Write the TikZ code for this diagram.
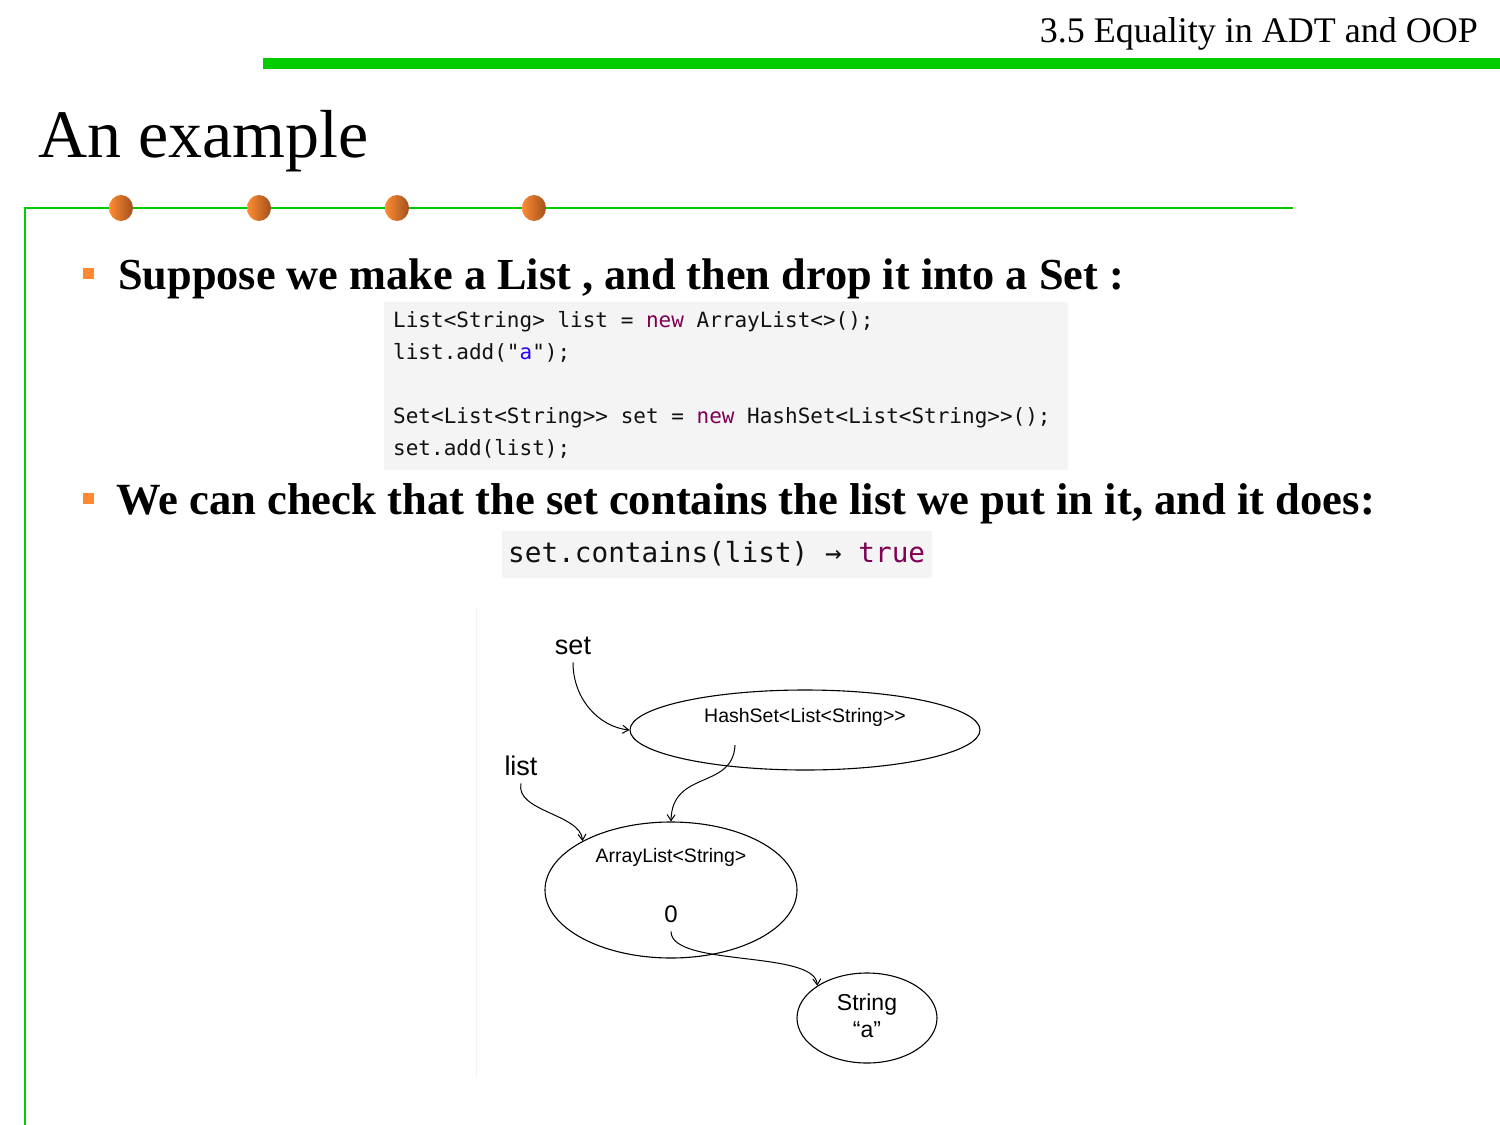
\documentclass[tikz,border=0pt]{standalone}
\usepackage{fontspec}
\setmainfont{Liberation Serif}
\newfontfamily\codefont{DejaVu Sans Mono}
\newfontfamily\sansdiag{Liberation Sans}
\usetikzlibrary{shapes.geometric,arrows.meta}
\definecolor{barGreen}{HTML}{00CC00}
\definecolor{dotLight}{HTML}{FF8C34}
\definecolor{dotDark}{HTML}{A0501C}
\definecolor{bulletOrange}{HTML}{FF8833}
\definecolor{codeBg}{HTML}{F4F4F4}
\definecolor{kwPurple}{HTML}{7F0055}
\definecolor{strBlue}{HTML}{2A00FF}
\definecolor{codeInk}{HTML}{111111}
\definecolor{frameGray}{HTML}{F2F2F2}

\begin{document}
\begin{tikzpicture}[x=1pt,y=-1pt,
  headertext/.style={anchor=base east, inner sep=0, font=\fontsize{36}{40}\selectfont},
  slidetitle/.style={anchor=base west, inner sep=0, font=\fontsize{68}{75}\selectfont},
  bullettext/.style={anchor=base west, inner sep=0, font=\fontsize{#1}{50}\selectfont\bfseries},
  bulletmark/.style={fill=bulletOrange, minimum size=11pt, inner sep=0},
  codeline/.style={anchor=base west, inner sep=0, text=codeInk, font=\codefont\fontsize{21}{24}\selectfont},
  bigcode/.style={anchor=base west, inner sep=0, text=codeInk, font=\codefont\fontsize{27.7}{30}\selectfont},
  ballmark/.style={ellipse, minimum width=24pt, minimum height=26pt, inner sep=0, left color=dotLight, right color=dotDark},
  objshape/.style={ellipse, draw, line width=1.1pt, inner sep=0},
  varlabel/.style={anchor=base, inner xsep=0, inner ysep=8pt, font=\sansdiag\fontsize{27}{30}\selectfont},
  typelabel/.style={anchor=base, inner sep=0, font=\sansdiag\fontsize{19.5}{22}\selectfont},
  valuelabel/.style={anchor=base, inner sep=0, font=\sansdiag\fontsize{23}{26}\selectfont},
  ref/.style={line width=1pt, -{Straight Barb[length=6pt,width=8pt]}}
]
\useasboundingbox (0,0) rectangle (1500,1125);
\fill[white] (0,0) rectangle (1500,1125);

% header
\node[headertext] (hdr) at (1478,42) {3.5 Equality in ADT and OOP};
\fill[barGreen] (263,58) rectangle (1500,69);

% title and its rule
\node[slidetitle] (ttl) at (38,157) {An example};
\draw[barGreen, line width=2pt] (1293,208) -- (25,208) -- (25,1125);
\foreach \i/\x in {1/121,2/259,3/397,4/534}
  \node[ballmark] (ball\i) at (\x,208) {};

% first bullet and code
\node[bulletmark] (bm1) at (88.5,273.5) {};
\node[bullettext=44.3] (b1) at (118,289) {Suppose we make a List , and then drop it into a Set :};
\fill[codeBg] (384,302) rectangle (1068,470);
\node[codeline] (c1) at (393,327) {List<String> list = \textcolor{kwPurple}{new} ArrayList<>();};
\node[codeline] (c2) at (393,359) {list.add("\textcolor{strBlue}{a}");};
\node[codeline] (c3) at (393,423) {Set<List<String>> set = \textcolor{kwPurple}{new} HashSet<List<String>>();};
\node[codeline] (c4) at (393,455) {set.add(list);};

% second bullet and code
\node[bulletmark] (bm2) at (88.5,498.5) {};
\node[bullettext=44.6] (b2) at (116,514) {We can check that the set contains the list we put in it, and it does:};
\fill[codeBg] (502,531) rectangle (932,578);
\node[bigcode] (c5) at (508,562) {set.contains(list) → \textcolor{kwPurple}{true}};

% snapshot diagram
\draw[frameGray, line width=1pt] (476,607) -- (476,1077);

\node[varlabel] (setvar) at (573,654) {set};
\node[varlabel] (listvar) at (521,775) {list};

\node[objshape, minimum width=350pt, minimum height=80pt] (hs) at (805,730) {};
\node[typelabel] (hsname) at (805,722) {HashSet<List<String>>};
\coordinate (hsslot) at (735,745);

\node[objshape, minimum width=252pt, minimum height=136pt] (al) at (671,890) {};
\node[typelabel] (alname) at (671,862) {ArrayList<String>};
\node[anchor=base, inner xsep=0, inner ysep=9pt, font=\sansdiag\fontsize{24}{26}\selectfont] (idx) at (671,922) {0};

\node[objshape, minimum width=140pt, minimum height=90pt] (str) at (867,1018) {};
\node[valuelabel] (strtype) at (867,1010) {String};
\node[valuelabel] (strval) at (867,1037) {“a”};

\draw[ref] (setvar.south) .. controls +(0,37) and +(-30,-3) .. (hs.west);
\draw[ref] (hsslot) .. controls +(-2,45) and +(1,-52) .. (al.north);
\draw[ref] (listvar.south) .. controls +(-6,28) and +(-2,-27) .. (al.151);
\draw[ref] (idx.south) .. controls +(0,36) and +(-2,-36) .. (str.147);
\end{tikzpicture}
\end{document}
